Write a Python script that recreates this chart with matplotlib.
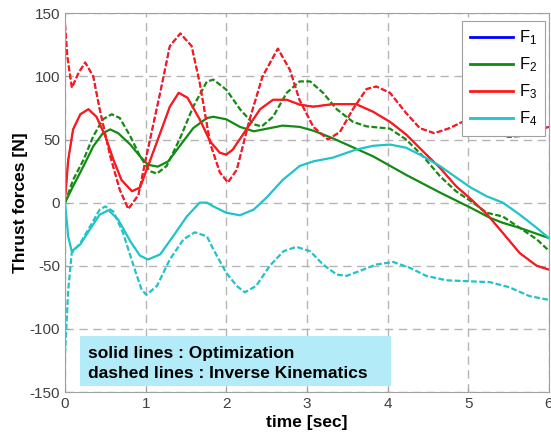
import matplotlib
matplotlib.use("Agg")
import matplotlib.pyplot as plt
from matplotlib.patches import Rectangle

plt.rcParams['font.family'] = ['Liberation Sans', 'DejaVu Sans']
plt.rcParams['axes.unicode_minus'] = False

# F3 inverse kinematics (dashed red)
t_f3_ik = [0, 0.03, 0.085, 0.17, 0.25, 0.35, 0.43, 0.56, 0.68, 0.785, 0.91, 1.0, 1.18, 1.30,
           1.43, 1.57, 1.67, 1.80, 1.92, 2.02, 2.13, 2.29, 2.45, 2.64, 2.79, 2.91, 3.08, 3.26,
           3.41, 3.57, 3.74, 3.86, 4.03, 4.23, 4.40, 4.58, 4.77, 4.93, 5.1, 5.3, 5.5, 5.7, 5.85, 6.0]
f3_ik = [141, 115, 91, 103, 111, 100, 74, 37, 10, -5, 6, 34, 87, 124,
         134, 124, 95, 47, 24, 16, 26, 66, 100, 122, 105, 81, 60, 50,
         56, 74, 90, 92, 87, 71, 59, 55, 59, 64, 62, 57, 52, 53, 57, 60]

# F3 optimization (solid red)
t_f3_opt = [0, 0.02, 0.04, 0.10, 0.19, 0.29, 0.39, 0.5, 0.6, 0.70, 0.83, 0.93, 1.03, 1.18,
            1.30, 1.41, 1.52, 1.67, 1.80, 1.92, 2.0, 2.08, 2.25, 2.42, 2.58, 2.75, 2.91, 3.08,
            3.32, 3.61, 3.82, 4.03, 4.23, 4.44, 4.65, 4.85, 5.03, 5.23, 5.43, 5.64, 5.85, 6.0]
f3_opt = [3, 18, 34, 58, 70, 74, 68, 52.5, 34, 18, 9, 12, 29, 55,
          76, 87, 83, 66, 48.5, 39.5, 38, 42, 58, 74, 81.5, 81.5, 77.6, 76,
          78, 78, 72, 64, 54, 40.6, 27.6, 13, 3, -9, -24, -40, -50, -53]

# F1 coincides with F3 (hidden underneath)
t_f1_ik, f1_ik = t_f3_ik, f3_ik
t_f1_opt, f1_opt = t_f3_opt, f3_opt

# F2 optimization (solid green)
t_f2_opt = [0, 0.10, 0.23, 0.35, 0.47, 0.56, 0.66, 0.81, 0.93, 1.03, 1.15, 1.28, 1.42, 1.59,
            1.76, 1.84, 2.0, 2.17, 2.34, 2.5, 2.70, 2.91, 3.08, 3.32, 3.53, 3.82, 4.23, 4.65,
            5.03, 5.27, 5.43, 5.64, 6.0]
f2_opt = [0, 13, 29, 44.6, 55, 58, 55, 46, 36.7, 30, 28.5, 32.7, 44.6, 59,
          67, 68, 66, 60, 56.5, 58.5, 61, 60, 57, 51, 45, 36.7, 22, 8,
          -4, -12, -16, -20, -28]

# F2 inverse kinematics (dashed green)
t_f2_ik = [0, 0.10, 0.23, 0.35, 0.47, 0.58, 0.68, 0.81, 0.93, 1.05, 1.14, 1.26, 1.42, 1.59,
           1.76, 1.84, 2.0, 2.17, 2.34, 2.44, 2.58, 2.75, 2.91, 3.04, 3.2, 3.37, 3.57, 3.74,
           4.03, 4.23, 4.44, 4.65, 4.85, 5.06, 5.23, 5.43, 5.64, 5.85, 6.0]
f2_ik = [0, 18, 34, 52.5, 66, 70, 67, 52.5, 36.7, 25, 23, 29, 50, 76,
         96, 97.4, 89.5, 74, 62, 60.4, 68, 87, 96, 96, 87, 74, 64, 60.4,
         58.6, 50, 36.7, 21, 9, 0, -8, -11, -20, -29, -38]

# F4 optimization (solid cyan)
t_f4_opt = [0, 0.04, 0.083, 0.19, 0.31, 0.43, 0.54, 0.66, 0.81, 0.93, 1.03, 1.18, 1.34, 1.51,
            1.67, 1.76, 1.84, 2.0, 2.17, 2.34, 2.5, 2.70, 2.91, 3.08, 3.32, 3.61, 3.82, 4.03,
            4.23, 4.44, 4.65, 4.85, 5.03, 5.23, 5.43, 5.64, 5.85, 6.0]
f4_opt = [0, -27, -38.5, -33, -21, -9.5, -6, -13.5, -30.6, -42, -45, -41, -26.7, -11,
          0, 0, -3, -8, -10, -5.5, 4, 18, 29, 32.7, 35.6, 42, 45, 46,
          43.5, 36.7, 29, 20, 12, 5, 0, -9.5, -20, -28]

# F4 inverse kinematics (dashed cyan)
t_f4_ik = [0, 0.04, 0.083, 0.19, 0.31, 0.43, 0.5, 0.6, 0.72, 0.85, 0.95, 1.01, 1.14, 1.30,
           1.47, 1.61, 1.76, 1.84, 2.0, 2.13, 2.23, 2.37, 2.54, 2.71, 2.87, 3.04, 3.2, 3.37,
           3.49, 3.66, 3.86, 4.07, 4.28, 4.48, 4.73, 5.02, 5.27, 5.51, 5.76, 6.0]
f4_ik = [-120, -69, -40, -32, -19, -5.5, -3, -7, -24, -50, -69, -73, -66, -45,
         -29, -23.5, -26.7, -37, -55.6, -66, -71, -66, -50, -38.5, -35, -38.5, -49, -57,
         -58, -54, -49, -47, -51.7, -58, -61.5, -62.3, -63, -67, -74, -77]

labels = ['$\\mathregular{F_1}$', '$\\mathregular{F_2}$', '$\\mathregular{F_3}$', '$\\mathregular{F_4}$']
colors = ['#0000ff', '#138a13', '#ff1a1a', '#1fc3c8']
lw = 1.6

fig = plt.figure(figsize=(5.51, 4.41), dpi=100)
ax = fig.add_axes([0.118, 0.111, 0.878, 0.859])

series = [(t_f1_opt, f1_opt, t_f1_ik, f1_ik),
          (t_f2_opt, f2_opt, t_f2_ik, f2_ik),
          (t_f3_opt, f3_opt, t_f3_ik, f3_ik),
          (t_f4_opt, f4_opt, t_f4_ik, f4_ik)]
handles = []
for i, ((to, fo, ti, fi), c, lab) in enumerate(zip(series, colors, labels)):
    # F1 lies exactly under F3, draw it thinner so it stays hidden
    w = 1.0 if i == 0 else lw
    k = lw / w
    h, = ax.plot(to, fo, color=c, lw=w, label=lab)
    ax.plot(ti, fi, color=c, lw=w, linestyle=(0, (2.6 * k, 1.1 * k)))
    handles.append(h)

ax.set_xlim(0, 6)
ax.set_ylim(-150, 150)
ax.set_xticks(range(0, 7))
ax.set_yticks(range(-150, 151, 50))
ax.grid(True, color='#b5b5b5', linestyle=(0, (6, 4)), linewidth=1.0)
ax.set_axisbelow(True)
for s in ax.spines.values():
    s.set_color('#a0a0a0')
ax.tick_params(direction='in', length=3, colors='#a0a0a0', labelcolor='#404040', labelsize=11)

ax.set_xlabel('time [sec]', fontsize=12.5, fontweight='bold', labelpad=3)
ax.set_ylabel('Thrust forces [N]', fontsize=12.5, fontweight='bold', labelpad=1)

hl = [plt.Line2D([], [], color=c, lw=2) for c in colors]
leg = ax.legend(hl, labels, loc='upper right', fontsize=12, handlelength=2.6,
                labelspacing=0.5, fancybox=False, framealpha=1, edgecolor='#a0a0a0',
                borderpad=0.45, handletextpad=0.35, borderaxespad=0,
                bbox_to_anchor=(0.992, 0.979))
leg.get_frame().set_linewidth(0.8)

ax.add_patch(Rectangle((0.19, -145), 3.85, 39, facecolor='#b3ecf8', edgecolor='none', zorder=3))
ax.text(0.28, -119.5, 'solid lines : Optimization', fontsize=12.5, fontweight='bold',
        va='center', ha='left', zorder=4)
ax.text(0.28, -135.5, 'dashed lines : Inverse Kinematics', fontsize=12.5, fontweight='bold',
        va='center', ha='left', zorder=4)

fig.savefig('out.png', dpi=100)
